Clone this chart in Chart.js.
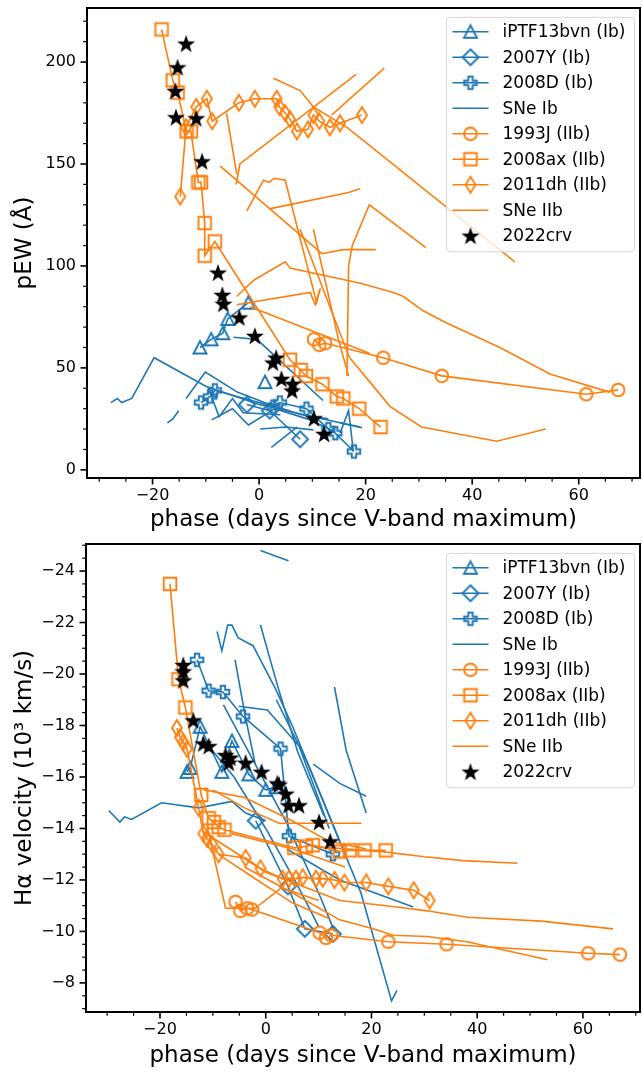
<!DOCTYPE html>
<html>
<head>
<meta charset="utf-8">
<script src="https://cdn.jsdelivr.net/npm/chart.js@4.4.1/dist/chart.umd.min.js"></script>
<style>
  body { margin: 0; background: #fff; overflow: hidden; }
  canvas { position: absolute; left: 0; }
</style>
</head>
<body>
<canvas id="pewChart" width="652" height="536" style="top:0"></canvas>
<canvas id="velChart" width="652" height="536" style="top:536px"></canvas>
<script>
// ---- pEW (top panel), [phase, pEW] ----
const pewIPTF13bvn = [[-11.1,60],[-9,64],[-6.8,67],[-5.9,74],[-2,82],null,[1.1,43]];
const pew2007Y = [[-2.3,32],[2,29],[7.7,15]];
const pew2008D = [[-10.9,33],[-9.2,36],[-8.3,39],[2.7,31],[3.9,33],[8.9,30],[13,20],[14.3,18],[17.8,9]];
const pewIbLines = [
  [[-27.8,33],[-26.6,35],[-25.8,33],[-23.9,35],[-19.7,55],[-10,41],[0,32],[10,26],[19,21]],
  [[-13.7,35],[-10.1,48],[-4,38],[2,32],[8,27],[13,25]],
  [[-17.2,23],[-16.2,25],[-15.1,29]],
  [[-4.8,65],[-0.4,64],[12,34]],
  [[0.2,20],[5,21],[10.2,19.6]],
  [[2.3,11],[7.1,21]],
  [[15.2,18],[16.8,29],[17.7,9]],
  [[15.2,23],[19.3,20.6]],
  [[-8.9,24.5],[-5,30],[-2,22],[3,30],[9,25],[14,19]],
  [[-9.5,40],[-7.5,26],[-5,35],[-3,28],[4,27]]
];
const pew1993J = [[10.3,64],[11.3,61.3],[12.4,62.1],[23.3,55],[34.3,46.1],[61.4,37.1],[67.4,39.2]];
const pew2008ax = [[-18.3,216],[-16.2,191],[-15.3,185],[-13.6,166],[-12.8,166],[-11.4,141],[-10.9,141],[-10.2,121],[-10.2,105],[-8.3,112],[5.8,54],[7.8,49],[8.8,46],[11.9,42],[14.6,36],[15.8,35],[18.8,30],[22.8,21]];
const pew2011dh = [[-14.8,134],[-13.7,168],[-11.8,178],[-9.8,182],[-8.8,171],[-3.8,180],[-0.8,182],[3.3,182],[3.8,178],[4.9,175],[5.8,172],[7.1,166],[9.2,167],[10.2,174],[11.3,171],[13.3,168],[15.2,170],[19.3,174]];
const pewIIbLines = [
  [[2.7,192],[7.7,186],[10.2,178],[16.5,168],[48,102]],
  [[18.2,194],[-3.6,150],[-4.3,140]],
  [[-6.1,175],[-4.2,145]],
  [[23.5,197],[13.6,174]],
  [[-2.3,127],[0.8,142],[1.9,141],[2.8,143],[4.9,142],[10.8,82],[11.4,88]],
  [[1.9,128],[16.8,136],[19,138]],
  [[-7.3,149],[11.8,106],[15.8,108],[21.9,108]],
  [[16.5,46],[16.8,100],[17.5,110],[20.7,130],[31.3,109]],
  [[-4.2,85],[-1,93],[4.9,102],[5.8,99],[19,91.5],[25.2,87],[27.1,85],[30.8,78],[35.2,72],[45.2,60],[54.6,47],[65.9,38]],
  [[-4.2,81],[9.6,87],[10.5,81],[11.5,89]],
  [[7.7,118],[15.2,67],[17,55],[20.5,44],[24.6,31],[30.5,21],[44.6,14],[53.8,20]],
  [[10.2,118],[14.9,64],[16.8,46]],
  [[-1.7,80],[20.8,57]]
];
const pew2022crv = [[-13.7,209],[-15.3,197.4],[-15.7,185.8],[-15.6,172.9],[-11.8,172.4],[-10.7,151.3],[-7.7,96.7],[-6.9,85.8],[-6.7,81.4],[-3.7,74.7],[-0.8,65.7],[3.2,55],[2.6,52.6],[4.2,44.6],[6.3,42.2],[6.2,38.9],[10.3,25.3],[12.2,17.6]];

// ---- H-alpha velocity (bottom panel), [phase, 10^3 km/s] ----
const velIPTF13bvn = [[-14.9,-16.2],[-14.3,-16.35],[-12.4,-17.95],[-8.3,-16.2],[-6.4,-17.4],[-3.2,-16.1],[0,-15.5],[1.9,-15.6]];
const vel2007Y = [[-1.9,-14.3],[4.2,-11.75],[7.4,-10.1],[12.7,-9.9]];
const vel2008D = [[-13,-20.55],[-10.8,-19.35],[-8.1,-19.3],[-4.3,-18.35],[2.8,-17.1],[4.4,-13.7],[12.7,-13]];
const velIbLines = [
  [[-29.7,-14.7],[-27.6,-14.25],[-26.7,-14.45],[-25.4,-14.35],[-19.7,-15],[-12.7,-14.8],[-6.4,-15.05],[-3.8,-14.6],[0,-14.3]],
  [[-1,-24.8],[4.3,-24.4]],
  [[-9.2,-21.65],[-8.3,-20.9],[-7.2,-21.9],[-6.4,-21.9],[-5.2,-21.4],[-2.4,-21.1],[-1,-20.55],[1.9,-19.4],[5,-18],[10,-15.5],[14,-13.5]],
  [[-1,-21.9],[2.3,-19.5],[6,-17],[11,-14.5]],
  [[-5.8,-20.55],[-4,-18.5],[-2,-16.5]],
  [[13,-19.5],[15.2,-17.05],[19,-14.6]],
  [[9,-16.5],[14,-15.75],[19,-15.25]],
  [[2,-19],[8,-16.5],[14,-13.5],[18,-11.5],[23.8,-7.3],[24.8,-7.7]],
  [[4,-13.2],[14,-12],[27.9,-10.95]],
  [[-5.1,-18.75],[0.3,-18.6],[6.3,-17.2],[9.2,-15.6],[12,-14]],
  [[-12,-17.5],[-6,-16],[0,-14],[6,-11.8],[10,-10.2]],
  [[-8,-18.8],[-2,-16.5],[4,-14.2],[10,-11.5],[13,-10]]
];
const vel1993J = [[-5.7,-11.15],[-4.8,-10.8],[-3.5,-10.9],[-2.6,-10.85],[10.2,-9.95],[11.4,-9.75],[12.4,-9.85],[23.2,-9.6],[34.2,-9.5],[61,-9.15],[67,-9.1]];
const vel2008ax = [[-18.1,-23.5],[-16.5,-19.8],[-15.2,-18.7],[-12.2,-15.3],[-10.8,-14.4],[-9.8,-14.25],[-8.9,-14.05],[-7.8,-13.95],[5.4,-13.25],[7.6,-13.3],[8.9,-13.35],[14,-13.1],[15.9,-13.15],[18.7,-13.15],[22.7,-13.15]];
const vel2011dh = [[-16.8,-17.9],[-16.2,-17.55],[-15.6,-17.35],[-14.9,-17.1],[-12.7,-14.8],[-11.8,-13.8],[-11.1,-13.6],[-10.2,-13.4],[-8.9,-13],[-3.8,-12.85],[-1,-12.45],[3.2,-12.05],[4.4,-12.05],[5.7,-12.05],[7,-12.1],[9.5,-12.05],[10.8,-12.05],[13,-12],[14.9,-11.9],[19,-11.9],[23.2,-11.75],[28,-11.6],[31,-11.2]];
const velIIbLines = [
  [[-12,-13.9],[0,-12.3],[14,-11.2],[24.8,-10.95],[30.5,-10.8],[38.1,-10.55],[52.1,-10.4],[65.7,-10.1]],
  [[-4,-12.5],[5,-11.5],[14,-10.45],[20.3,-10.1],[24.1,-9.85],[30.5,-9.8],[38.1,-9.6],[53.3,-8.9]],
  [[9,-13.3],[22,-13.1],[30,-12.9],[37.4,-12.75],[47.6,-12.65]],
  [[-10,-15.5],[-4,-14.8],[2.5,-14.2],[18.1,-14.2]],
  [[-11.7,-15.5],[-4,-15.2],[5,-14.3],[12,-13.5],[19,-13.2]],
  [[-6.4,-13.8],[5.1,-13.2],[15,-12.5]],
  [[-11,-14],[-7.6,-10.9],[-2,-10.9],[3,-11.7],[10,-11.2]],
  [[-9,-13],[-3.5,-12.25],[5.1,-11.1],[12,-10.5]]
];
const vel2022crv = [[-15.6,-20.35],[-15.6,-20.1],[-15.6,-19.75],[-13.7,-18.2],[-11.8,-17.3],[-10.8,-17.2],[-7.6,-16.85],[-7,-16.55],[-6.7,-16.75],[-3.8,-16.55],[-0.8,-16.2],[2.2,-15.75],[2.5,-15.7],[3.8,-15.35],[4.3,-14.9],[6.3,-14.9],[10.1,-14.25],[12.2,-13.5]];

// tick labels
const phaseMajor = [-20, 0, 20, 40, 60];
const pewMajor = [0, 50, 100, 150, 200];
const velMajor = [-24, -22, -20, -18, -16, -14, -12, -10, -8];

const blue = '#1f77b4';
const orange = '#ff7f0e';

Chart.defaults.font.family = "'DejaVu Sans', sans-serif";
Chart.defaults.color = '#000';

// hollow matplotlib-like markers
function marker(kind, color) {
  const s = 24, m = s / 2;
  const c = document.createElement('canvas');
  c.width = s; c.height = s;
  const g = c.getContext('2d');
  g.strokeStyle = color; g.fillStyle = color; g.lineWidth = 1.9;
  g.beginPath();
  if (kind === '^') {
    g.moveTo(m, m - 6.5); g.lineTo(m + 6.5, m + 6); g.lineTo(m - 6.5, m + 6); g.closePath();
  } else if (kind === 'D') {
    g.moveTo(m, m - 8); g.lineTo(m + 8, m); g.lineTo(m, m + 8); g.lineTo(m - 8, m); g.closePath();
  } else if (kind === 'd') {
    g.moveTo(m, m - 8); g.lineTo(m + 5, m); g.lineTo(m, m + 8); g.lineTo(m - 5, m); g.closePath();
  } else if (kind === 's') {
    g.rect(m - 6.3, m - 6.3, 12.6, 12.6);
  } else if (kind === 'o') {
    g.arc(m, m, 6.3, 0, Math.PI * 2);
  } else if (kind === 'P') {
    const a = 6.3, b = 2.2;
    g.moveTo(m - b, m - a); g.lineTo(m + b, m - a); g.lineTo(m + b, m - b); g.lineTo(m + a, m - b);
    g.lineTo(m + a, m + b); g.lineTo(m + b, m + b); g.lineTo(m + b, m + a); g.lineTo(m - b, m + a);
    g.lineTo(m - b, m + b); g.lineTo(m - a, m + b); g.lineTo(m - a, m - b); g.lineTo(m - b, m - b); g.closePath();
  } else if (kind === '*') {
    for (let i = 0; i < 10; i++) {
      const r = i % 2 ? 3.8 : 9.5;
      const ang = -Math.PI / 2 + i * Math.PI / 5;
      const px = m + r * Math.cos(ang), py = m + 0.8 + r * Math.sin(ang);
      i ? g.lineTo(px, py) : g.moveTo(px, py);
    }
    g.closePath(); g.fill();
    return c;
  }
  g.stroke();
  return c;
}

function pts(arr) {
  return arr.map(p => p ? { x: p[0], y: p[1] } : { x: NaN, y: NaN });
}

function series(arr, color, kind, noLine) {
  return {
    data: pts(arr),
    showLine: !noLine,
    borderColor: color,
    backgroundColor: color,
    borderWidth: 1.6,
    pointStyle: kind ? marker(kind, color) : false,
    pointRadius: kind ? 6 : 0,
    spanGaps: false
  };
}

function buildDatasets(d) {
  const list = [];
  list.push(series(d.iptf, blue, '^'));
  list.push(series(d.y07, blue, 'D'));
  list.push(series(d.d08, blue, 'P'));
  d.ib.forEach(l => list.push(series(l, blue)));
  list.push(series(d.j93, orange, 'o'));
  list.push(series(d.ax08, orange, 's'));
  list.push(series(d.dh11, orange, 'd'));
  d.iib.forEach(l => list.push(series(l, orange)));
  list.push(series(d.crv, '#000', '*', true));
  // later datasets drawn on top
  list.forEach((ds, i) => { ds.order = -i; });
  return list;
}

const legendItems = [
  { label: 'iPTF13bvn (Ib)', color: blue, kind: '^' },
  { label: '2007Y (Ib)', color: blue, kind: 'D' },
  { label: '2008D (Ib)', color: blue, kind: 'P' },
  { label: 'SNe Ib', color: blue },
  { label: '1993J (IIb)', color: orange, kind: 'o' },
  { label: '2008ax (IIb)', color: orange, kind: 's' },
  { label: '2011dh (IIb)', color: orange, kind: 'd' },
  { label: 'SNe IIb', color: orange },
  { label: '2022crv', color: '#000', kind: '*', noLine: true }
];

const boxLegend = {
  id: 'boxLegend',
  afterDatasetsDraw(chart) {
    const { ctx, chartArea: a } = chart;
    const w = 188, h = 234.5;
    const x0 = a.right - 5.5 - w, y0 = a.top + 9.3;
    ctx.save();
    ctx.beginPath();
    ctx.roundRect(x0, y0, w, h, 4);
    ctx.fillStyle = 'rgba(255,255,255,0.8)';
    ctx.fill();
    ctx.strokeStyle = '#d6d6d6';
    ctx.lineWidth = 1;
    ctx.stroke();
    ctx.font = "17px 'DejaVu Sans'";
    ctx.textBaseline = 'middle';
    legendItems.forEach((it, i) => {
      const cy = y0 + 14.5 + i * 25.5;
      if (!it.noLine) {
        ctx.strokeStyle = it.color; ctx.lineWidth = 1.6;
        ctx.beginPath(); ctx.moveTo(x0 + 6, cy); ctx.lineTo(x0 + 42, cy); ctx.stroke();
      }
      if (it.kind) {
        const img = marker(it.kind, it.color);
        ctx.drawImage(img, x0 + 24 - img.width / 2, cy - img.height / 2);
      }
      ctx.fillStyle = '#000';
      ctx.fillText(it.label, x0 + 56, cy + 1);
    });
    ctx.restore();
  }
};

const frame = {
  id: 'frame',
  afterDraw(chart) {
    const { ctx, chartArea: a } = chart;
    ctx.save();
    ctx.strokeStyle = '#000';
    ['x', 'y'].forEach(id => {
      const sc = chart.scales[id];
      sc.ticks.forEach(t => {
        const major = t.label !== '';
        const len = major ? 6.5 : 3.8;
        ctx.lineWidth = major ? 1.6 : 1.2;
        const p = sc.getPixelForValue(t.value);
        ctx.beginPath();
        if (id === 'x') { ctx.moveTo(p, a.bottom); ctx.lineTo(p, a.bottom + len); }
        else { ctx.moveTo(a.left, p); ctx.lineTo(a.left - len, p); }
        ctx.stroke();
      });
    });
    ctx.lineWidth = 2;
    ctx.strokeRect(a.left, a.top, a.right - a.left, a.bottom - a.top);
    ctx.restore();
  }
};

function minorTicks(step) {
  return scale => {
    const out = [];
    for (let v = Math.ceil(scale.min / step) * step; v <= scale.max + 1e-9; v += step) {
      out.push({ value: Math.round(v * 100) / 100 });
    }
    scale.ticks = out;
  };
}

function tickLabel(majors) {
  return v => majors.includes(v) ? String(v).replace('-', '\u2212') : '';
}

function makeChart(id, d, cfg) {
  return new Chart(document.getElementById(id), {
    type: 'scatter',
    data: { datasets: buildDatasets(d) },
    options: {
      responsive: false,
      animation: false,
      // canvas is 652 wide; 12px right padding puts the frame at x=640
      layout: { padding: { top: 8, right: 12, left: 0, bottom: 0 } },
      plugins: { legend: { display: false }, tooltip: { enabled: false } },
      scales: {
        x: {
          type: 'linear',
          min: cfg.xMin, max: cfg.xMax,
          afterBuildTicks: minorTicks(5),
          afterFit: s => { s.height = cfg.xAxisH; s.paddingLeft = 0; s.paddingRight = 0; },
          grid: { drawOnChartArea: false, drawTicks: false },
          border: { display: false },
          ticks: { autoSkip: false, maxRotation: 0, padding: 8, font: { size: 16 }, callback: tickLabel(phaseMajor) },
          title: { display: true, text: 'phase (days since V-band maximum)', font: { size: 23 }, padding: { top: 0, bottom: 2 } }
        },
        y: {
          type: 'linear',
          min: cfg.yMin, max: cfg.yMax, reverse: cfg.reverse,
          afterBuildTicks: minorTicks(cfg.yStep),
          afterFit: s => { s.width = cfg.yAxisW; s.paddingTop = 0; s.paddingBottom = 0; },
          grid: { drawOnChartArea: false, drawTicks: false },
          border: { display: false },
          ticks: { autoSkip: false, padding: 11, font: { size: 16 }, callback: tickLabel(cfg.yMajor) },
          title: { display: true, text: cfg.yTitle, font: { size: 23 }, padding: { top: 11, bottom: 0 } }
        }
      }
    },
    plugins: [boxLegend, frame]
  });
}

makeChart('pewChart', {
  iptf: pewIPTF13bvn, y07: pew2007Y, d08: pew2008D, ib: pewIbLines,
  j93: pew1993J, ax08: pew2008ax, dh11: pew2011dh, iib: pewIIbLines, crv: pew2022crv
}, { xMin: -32.3, xMax: 71.5, yMin: -4, yMax: 226.5, reverse: false, yStep: 10, yMajor: pewMajor,
     yTitle: 'pEW (Å)', xAxisH: 58, yAxisW: 87 });

makeChart('velChart', {
  iptf: velIPTF13bvn, y07: vel2007Y, d08: vel2008D, ib: velIbLines,
  j93: vel1993J, ax08: vel2008ax, dh11: vel2011dh, iib: velIIbLines, crv: vel2022crv
}, { xMin: -34, xMax: 70.8, yMin: -25.05, yMax: -6.87, reverse: true, yStep: 0.5, yMajor: velMajor,
     yTitle: 'Hα velocity (10³ km/s)', xAxisH: 60, yAxisW: 86 });
</script>
</body>
</html>
